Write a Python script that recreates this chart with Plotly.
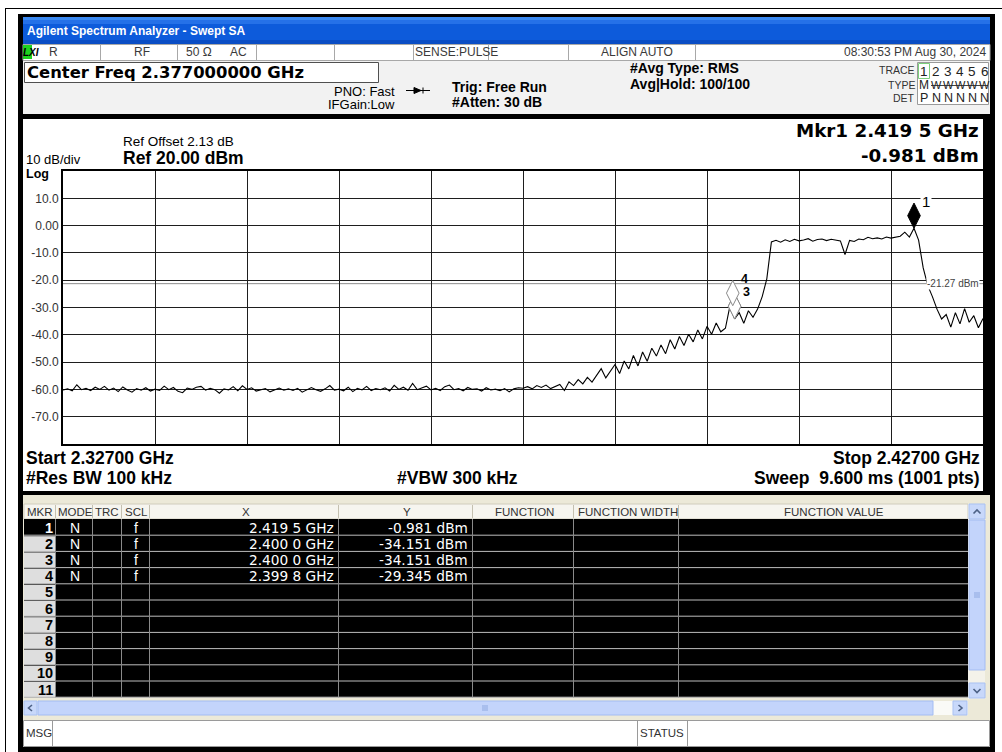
import plotly.graph_objects as go

# ---------------- data ----------------
start_ghz = 2.327
stop_ghz = 2.427
ref_level_dbm = 20.0
db_per_div = 10.0
display_line_dbm = -21.27

trace_dbm = [
    # 2.3270 .. 2.3765 GHz (noise floor)
    -60.2, -59.8, -60.5, -58.3, -60.1, -59.6, -60.4, -59.2, -60.0, -58.9,
    -60.3, -59.5, -60.8, -59.1, -60.2, -61.0, -59.7, -60.3, -59.4, -60.6,
    -59.9, -60.4, -58.8, -60.1, -59.3, -60.7, -61.2, -59.5, -60.0, -59.2,
    -58.9, -60.3, -59.6, -60.1, -61.4, -59.8, -60.2, -59.0, -60.5, -58.7,
    -60.0, -59.4, -60.6, -60.1, -59.7, -60.9, -60.2, -59.5, -60.3, -59.8,
    -60.4, -59.6, -61.0, -60.2, -59.3, -60.1, -60.7, -59.8, -58.6, -60.3,
    -59.9, -60.5, -59.2, -60.8, -59.6, -60.2, -58.9, -60.4, -59.7, -60.1,
    -59.4, -60.6, -58.5, -60.0, -59.2, -60.3, -57.8, -60.1, -59.5, -58.8,
    -60.2, -59.6, -60.4, -59.0, -58.4, -60.1, -59.7, -60.5, -59.3, -60.0,
    -59.8, -60.6, -59.4, -60.2, -59.9, -60.5, -59.7, -60.9, -59.8, -59.4,
    # 2.3770 .. 2.4035 GHz (rising skirt)
    -59.6, -59.0, -59.8, -58.6, -59.3, -58.4, -59.7, -58.9, -58.2, -60.4,
    -57.2, -58.6, -56.4, -58.0, -55.6, -57.3, -54.9, -52.4, -55.8, -53.1,
    -50.9, -54.2, -49.6, -52.5, -47.6, -51.4, -46.3, -49.7, -44.9, -47.8,
    -43.7, -46.9, -41.8, -45.2, -40.6, -43.9, -39.8, -42.6, -38.2, -41.5,
    -36.9, -39.8, -35.7, -38.9, -37.6, -29.3, -34.15, -31.9, -35.8, -31.2,
    -33.6, -30.6, -26.0, -19.5,
    # 2.4040 .. 2.4200 GHz (channel plateau)
    -6.0, -5.4, -6.1, -5.2, -5.8, -5.0, -5.6, -5.3, -4.8, -5.7,
    -5.1, -4.9, -5.5, -5.0, -5.3, -5.6, -10.6, -5.4, -5.8, -4.9,
    -5.2, -4.3, -4.8, -4.5, -4.9, -4.2, -4.6, -4.3, -3.9, -2.4,
    -4.2, -0.981, -5.3,
    # 2.4205 .. 2.4270 GHz (falling edge and floor)
    -15.5, -22.0, -26.0, -30.6, -34.2, -32.6, -37.2, -31.9, -36.0, -30.4,
    -35.4, -33.0, -37.4, -34.0,
]

mkr_id = ["1", "2", "3", "4"]
mkr_freq_ghz = [2.4195, 2.4000, 2.4000, 2.3998]
mkr_amp_dbm = [-0.981, -34.151, -34.151, -29.345]
mkr_mode = ["N", "N", "N", "N"]
mkr_scl = ["f", "f", "f", "f"]
mkr_label_visible = [True, False, True, True]   # marker 2 is hidden under marker 3
table_rows = 11

ytick_vals = [10, 0, -10, -20, -30, -40, -50, -60, -70]
ytick_text = ["10.0", "0.00", "-10.0", "-20.0", "-30.0", "-40.0", "-50.0", "-60.0", "-70.0"]

table_cols = ["MKR", "MODE", "TRC", "SCL", "X", "Y", "FUNCTION", "FUNCTION WIDTH", "FUNCTION VALUE"]
trace_nums = ["1", "2", "3", "4", "5", "6"]
trace_types = ["M", "W", "W", "W", "W", "W"]
trace_dets = ["P", "N", "N", "N", "N", "N"]

n_pts = len(trace_dbm)
freqs = [start_ghz + (stop_ghz - start_ghz) * i / (n_pts - 1) for i in range(n_pts)]

# ---------------- layout helpers (pixel -> paper) ----------------
W, H = 1002, 752
ARIAL = "Liberation Sans, Arial, sans-serif"
NARROW = "Liberation Sans Narrow, Arial Narrow, Liberation Sans, sans-serif"
DEJAVU = "DejaVu Sans, sans-serif"

shapes = []
anns = []


def PX(x):
    return x / W


def PY(y):
    return 1 - y / H


def rect(x0, y0, x1, y1, fill=None, line=None, lw=1, layer="below"):
    shapes.append(dict(type="rect", xref="paper", yref="paper",
                       x0=PX(x0), x1=PX(x1), y0=PY(y1), y1=PY(y0), layer=layer,
                       fillcolor=fill if fill else "rgba(0,0,0,0)",
                       line=dict(color=line, width=lw) if line else dict(width=0)))


def seg(x0, y0, x1, y1, color, lw=1, layer="below"):
    shapes.append(dict(type="line", xref="paper", yref="paper",
                       x0=PX(x0), x1=PX(x1), y0=PY(y0), y1=PY(y1), layer=layer,
                       line=dict(color=color, width=lw)))


def poly(pts, color, fill=None, lw=1, closed=False, layer="below"):
    p = "M " + " L ".join(f"{PX(a):.5f},{PY(b):.5f}" for a, b in pts)
    if closed:
        p += " Z"
    shapes.append(dict(type="path", xref="paper", yref="paper", path=p, layer=layer,
                       fillcolor=fill if fill else "rgba(0,0,0,0)",
                       line=dict(color=color, width=lw)))


def txt(x, y, s, size=12, color="black", family=ARIAL, weight="normal", anchor="left",
        bg=None, style="normal"):
    d = dict(xref="paper", yref="paper", x=PX(x), y=PY(y), text=s, showarrow=False,
             xanchor=anchor, yanchor="middle", borderpad=0,
             font=dict(size=size, color=color, family=family, weight=weight, style=style))
    if bg:
        d["bgcolor"] = bg
    anns.append(d)


# ---------------- page & window frame ----------------
seg(5, 8.5, 1002, 8.5, "black")
seg(5.5, 8, 5.5, 752, "black")
rect(18, 14, 995, 752, fill="black")
rect(23, 17, 990, 747, fill="#F2F2F2")

# title bar
rect(23, 17, 990, 20, fill="#3B8AF2")
rect(23, 20, 990, 24, fill="#2571E8")
rect(23, 24, 990, 40, fill="#0D5BDB")
rect(23, 40, 990, 44, fill="#0A4DC4")
txt(26, 31, "Agilent Spectrum Analyzer - Swept SA", 12, "white", ARIAL, "bold")

# status row
rect(23, 44.5, 990, 60.5, fill="white", line="#A8A8A8")
for xd in [100, 177, 256, 334, 413, 488, 568, 695]:
    seg(xd + 0.5, 45, xd + 0.5, 60, "#A8A8A8")
rect(23, 45, 32, 59, fill="#1ED21E")
txt(22, 52, "LXI", 10, "black", ARIAL, "bold", style="italic")
sc = "#3A3A3A"
txt(48, 52, "R", 12, sc, NARROW)
txt(142, 52, "RF", 12, sc, NARROW, anchor="center")
txt(185, 52, "50 Ω", 12, sc, NARROW)
txt(229, 52, "AC", 12, sc, NARROW)
txt(414, 52, "SENSE:PULSE", 12, sc, NARROW)
txt(637, 52, "ALIGN AUTO", 12, sc, NARROW, anchor="center")
txt(987, 52, "08:30:53 PM Aug 30, 2024", 12, sc, NARROW, anchor="right")

# center freq box
rect(24.5, 62.5, 378.5, 82.5, fill="white", line="#505050")
txt(26, 72.5, "Center Freq 2.377000000 GHz", 16.4, "black", DEJAVU, "bold")

# acquisition info
txt(333, 91, "PNO: Fast", 13, "black", ARIAL)
txt(327, 104, "IFGain:Low", 13, "black", ARIAL)
seg(406, 90.5, 430, 90.5, "black", 1)
poly([(414, 87.5), (421, 90.5), (414, 93.5)], "black", fill="black", closed=True)
seg(423, 87.5, 423, 93.5, "black", 1)
txt(451, 87, "Trig: Free Run", 14, "black", ARIAL, "bold")
txt(451, 102, "#Atten: 30 dB", 14, "black", ARIAL, "bold")
txt(629, 68, "#Avg Type: RMS", 14, "black", ARIAL, "bold")
txt(629, 84, "Avg|Hold: 100/100", 14, "black", ARIAL, "bold")

# trace box
txt(916, 70, "TRACE", 10.5, "#333", NARROW, anchor="right")
txt(916, 85, "TYPE", 10.5, "#333", NARROW, anchor="right")
txt(916, 98, "DET", 10.5, "#333", NARROW, anchor="right")
rect(917.5, 62.5, 988.5, 104.5, fill="white", line="#9A9A9A")
rect(918.5, 63.5, 929.5, 78.5, line="#7CCF7C")
for k in range(6):
    cx = 924 + 12.1 * k
    txt(cx, 71, trace_nums[k], 13.5, "#222", ARIAL, anchor="center")
    txt(cx, 85, trace_types[k], 12 if k == 0 else 11, "#222", NARROW, anchor="center")
    txt(cx, 98, trace_dets[k], 12.5, "#222", ARIAL, anchor="center")
seg(931, 85.5, 988, 85.5, "#444", 1, layer="above")

# ---------------- graph panel ----------------
rect(19, 114, 993, 495, fill="black")
rect(23, 119, 983, 491, fill="white")
txt(122, 141, "Ref Offset 2.13 dB", 13.5, "black", ARIAL)
txt(122, 158, "Ref 20.00 dBm", 17.5, "black", ARIAL, "bold")
txt(25, 159, "10 dB/div", 13, "black", ARIAL)
txt(25, 174, "Log", 12.5, "black", ARIAL, "bold")
txt(980, 131, "Mkr1 2.419 5 GHz", 18.3, "black", DEJAVU, "bold", anchor="right")
txt(980, 156, "-0.981 dBm", 18.3, "black", DEJAVU, "bold", anchor="right")
txt(25, 458, "Start 2.32700 GHz", 17.5, "black", ARIAL, "bold")
txt(25, 478, "#Res BW 100 kHz", 17.5, "black", ARIAL, "bold")
txt(457, 478, "#VBW 300 kHz", 17.5, "black", ARIAL, "bold", anchor="center")
txt(981, 458, "Stop 2.42700 GHz", 17.5, "black", ARIAL, "bold", anchor="right")
txt(981, 478, "Sweep  9.600 ms (1001 pts)", 17.5, "black", ARIAL, "bold", anchor="right")

# ---------------- marker table ----------------
rect(23, 495, 990, 720, fill="#ECE9D8")
col_x = [24, 55, 92, 121, 149, 338, 472, 573, 678, 968]
rect(24, 504, 968, 519, fill="#F6F5EF", line="#D0CCBD")
for xd in col_x[1:-1]:
    seg(xd + 0.5, 505, xd + 0.5, 518, "#C4C0B0")
hdr_cx = [40, 75, 107, 136, 246, 407, 524, 628, 834]
for c, s in zip(hdr_cx, table_cols):
    txt(c, 511.5, s, 11.5, "#333", NARROW, anchor="center")

row_h = 16.2
row_top = 519
rect(24, row_top, 968, row_top + row_h * table_rows, fill="black")
for k in range(1, table_rows):
    rect(24, row_top + row_h * k + 1, 55, row_top + row_h * (k + 1), fill="#DEDEDE")
for k in range(1, table_rows + 1):
    yy = row_top + row_h * k
    seg(24, yy, 968, yy, "#BDBDBD")
for xd in col_x[1:-1]:
    seg(xd + 0.5, row_top, xd + 0.5, row_top + row_h * table_rows, "#8A8A8A")
for k in range(table_rows):
    cy = row_top + row_h * k + row_h / 2 + 0.5
    txt(54, cy, str(k + 1), 14.5, "white" if k == 0 else "black", ARIAL, "bold", anchor="right")
    if k < len(mkr_id):
        f = f"{mkr_freq_ghz[k]:.4f}"
        fx = f[:-1] + " " + f[-1] + " GHz"
        txt(75, cy, mkr_mode[k], 14, "white", ARIAL, anchor="center")
        txt(136, cy, mkr_scl[k], 14, "white", ARIAL, anchor="center")
        txt(335, cy, fx, 13.7, "white", DEJAVU, anchor="right")
        txt(469, cy, f"{mkr_amp_dbm[k]:.3f} dBm", 13.7, "white", DEJAVU, anchor="right")

# vertical scrollbar
rect(968, 504, 985, 699, fill="#F4F2EA")
rect(969, 504, 985, 519, fill="#C8D8FA", line="#A9C1F2")
rect(969, 520, 985, 670, fill="#C3D4FB", line="#A3BCF2")
rect(969, 683, 985, 698, fill="#C8D8FA", line="#A9C1F2")
poly([(973.5, 513.5), (977, 510), (980.5, 513.5)], "#4D6185", lw=1.6)
poly([(973.5, 689), (977, 692.5), (980.5, 689)], "#4D6185", lw=1.6)
for dy in (-2, 0, 2):
    seg(974, 595 + dy, 980, 595 + dy, "#8FA9E0")

# horizontal scrollbar
rect(24, 701, 968, 715, fill="#FAFAF7")
rect(24, 701, 37, 715, fill="#C8D8FA", line="#A9C1F2")
rect(38, 701, 933, 715, fill="#C3D4FB", line="#A3BCF2")
rect(953, 701, 967, 715, fill="#C8D8FA", line="#A9C1F2")
poly([(32, 705), (28.5, 708), (32, 711)], "#4D6185", lw=1.6)
poly([(958.5, 705), (962, 708), (958.5, 711)], "#4D6185", lw=1.6)
for dx in (-2, 0, 2):
    seg(485 + dx, 705, 485 + dx, 711, "#8FA9E0")

# status bar
rect(23.5, 720.5, 989.5, 746.5, fill="white", line="#9A9A9A")
for xd in [52, 637, 687]:
    seg(xd + 0.5, 721, xd + 0.5, 746, "#9A9A9A")
txt(25, 733, "MSG", 11.5, "#333", NARROW)
txt(662, 733, "STATUS", 11.5, "#333", NARROW, anchor="center")

# ---------------- spectrum plot ----------------
fig = go.Figure()
fig.add_trace(go.Scatter(x=freqs, y=trace_dbm, mode="lines",
                         line=dict(color="black", width=1.1),
                         hoverinfo="skip", showlegend=False))

# display line
shapes.append(dict(type="line", xref="x", yref="y", x0=start_ghz, x1=stop_ghz,
                   y0=display_line_dbm, y1=display_line_dbm, layer="below",
                   line=dict(color="#8C8C8C", width=1)))
anns.append(dict(xref="x", yref="y", x=stop_ghz, y=display_line_dbm, xshift=-3,
                 text=f"{display_line_dbm:.2f} dBm", showarrow=False, xanchor="right",
                 yanchor="middle", bgcolor="white", borderpad=0,
                 font=dict(size=10, color="#444", family=ARIAL)))

# markers (diamond drawn above the marker point)
px_per_db = (444 - 171) / (db_per_div * 10)
diam_size = 18
lift_db = (diam_size / 2 * 1.4) / px_per_db
for idx in [1, 2, 3, 0]:
    active = idx == 0
    fig.add_trace(go.Scatter(
        x=[mkr_freq_ghz[idx]], y=[mkr_amp_dbm[idx] + lift_db], mode="markers",
        marker=dict(symbol="diamond-tall", size=diam_size,
                    color="black" if active else "white",
                    line=dict(color="black" if active else "#8A8A8A", width=1)),
        hoverinfo="skip", showlegend=False))
    if mkr_label_visible[idx]:
        anns.append(dict(xref="x", yref="y", x=mkr_freq_ghz[idx], y=mkr_amp_dbm[idx],
                         xshift=12, yshift=27, text=mkr_id[idx], showarrow=False,
                         xanchor="center", yanchor="middle",
                         borderpad=1 if active else 0,
                         bgcolor="white" if active else None,
                         font=dict(size=15 if active else 12.5, color="black", family=ARIAL,
                                   weight="normal" if active else "bold")))

fig.update_layout(
    width=W, height=H, autosize=False,
    margin=dict(l=0, r=0, t=0, b=0),
    paper_bgcolor="white", plot_bgcolor="rgba(0,0,0,0)",
    shapes=shapes, annotations=anns, showlegend=False,
    xaxis=dict(domain=[PX(63), PX(983)], range=[start_ghz, stop_ghz],
               tick0=start_ghz, dtick=(stop_ghz - start_ghz) / 10,
               showgrid=True, gridcolor="#1E1E1E", gridwidth=1,
               showticklabels=False, ticks="", zeroline=False,
               showline=True, mirror=True, linecolor="black", linewidth=2,
               fixedrange=True),
    yaxis=dict(domain=[PY(444), PY(171)],
               range=[ref_level_dbm - 10 * db_per_div, ref_level_dbm],
               tickvals=ytick_vals, ticktext=ytick_text,
               showgrid=True, gridcolor="#1E1E1E", gridwidth=1, ticks="",
               zeroline=False, showline=True, mirror=True, linecolor="black",
               linewidth=2, tickfont=dict(size=12, color="#333", family=ARIAL),
               fixedrange=True),
)

fig.write_html("out.html", config={"displayModeBar": False},
               post_script="document.body.style.margin='0px';document.body.style.overflow='hidden';")
